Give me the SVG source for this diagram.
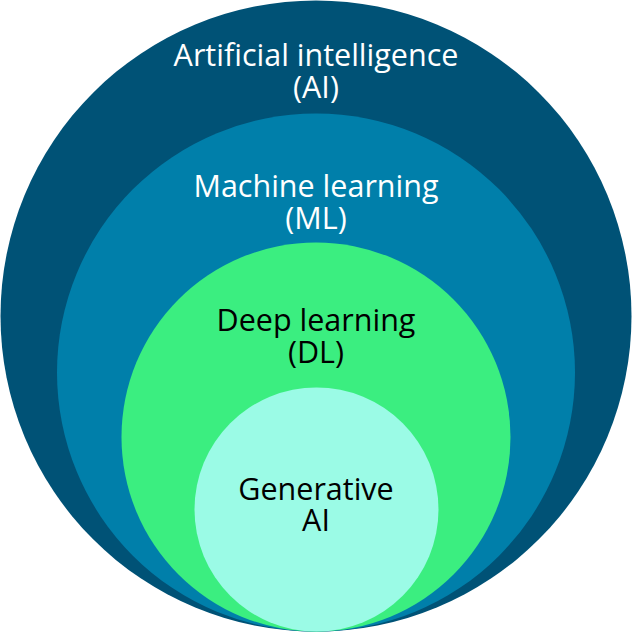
<svg xmlns="http://www.w3.org/2000/svg" width="632" height="632" viewBox="0 0 632 632">
<style>
.t{font-family:"Open Sans","Noto Sans",sans-serif;font-size:30.5px;text-anchor:middle}
.w{fill:#ffffff}
.k{fill:#000000}
</style>
<rect width="632" height="632" fill="#ffffff"/>
<g id="ai">
<circle cx="316" cy="316" r="315.5" fill="#005276"/>
<text class="t w" x="316" y="66">Artificial intelligence<tspan x="316" dy="32">(AI)</tspan></text>
</g>
<g id="ml">
<circle cx="316" cy="372.5" r="259" fill="#007FAA"/>
<text class="t w" x="316" y="197">Machine learning<tspan x="316" dy="32">(ML)</tspan></text>
</g>
<g id="dl">
<circle cx="316" cy="437" r="194.5" fill="#3BEE80"/>
<text class="t k" x="316" y="331">Deep learning<tspan x="316" dy="32">(DL)</tspan></text>
</g>
<g id="genai">
<circle cx="316.5" cy="509.5" r="122" fill="#9BFBE6"/>
<text class="t k" x="316" y="500">Generative<tspan x="316" dy="31">AI</tspan></text>
</g>
<g id="connectors"/>
</svg>
